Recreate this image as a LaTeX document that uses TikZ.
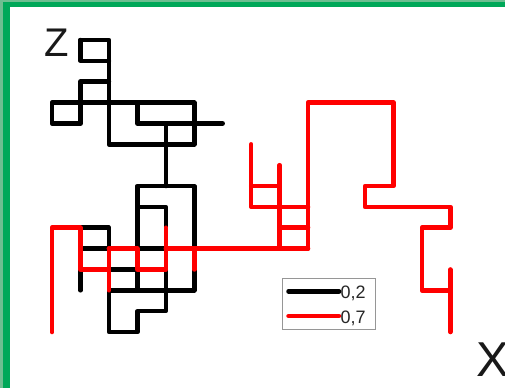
\documentclass[tikz,border=0pt]{standalone}
\usepackage{fontspec}
\setmainfont{Liberation Sans}
\definecolor{frgreen}{RGB}{0,168,89}
\definecolor{frlight}{RGB}{110,190,145}
\definecolor{walkred}{RGB}{255,0,0}
\definecolor{legendgray}{RGB}{150,150,150}
\tikzset{
  blk/.style={line width=4.5pt, black, line cap=round, line join=round},
  rd/.style={line width=4.5pt, walkred, line cap=round, line join=round},
  axislabel/.style={inner sep=0pt, anchor=base west, text=black!90},
  legtext/.style={inner sep=0pt, anchor=base west, font=\fontsize{18}{18}\selectfont, text=black!85}
}
\begin{document}
\begin{tikzpicture}[x=1pt,y=-1pt]
\useasboundingbox (0,0) rectangle (505,388);
\fill[white] (0,0) rectangle (505,388);
% frame
\fill[frlight] (0,0) rectangle (3,388);
\fill[frgreen] (3,0) rectangle (10,388);
\fill[frlight] (0,0) rectangle (505,1.5);
\fill[frgreen] (3,1.5) rectangle (505,7);
% axis letters
\node[axislabel, font=\fontsize{40}{40}\selectfont] (zlab) at (44,56.7) {Z};
\node[axislabel, font=\fontsize{49}{49}\selectfont] (xlab) at (476,376.7) {X};
% walks
\begin{scope}[shift={(52pt,-40pt)}, x=28.45pt, y=-20.86pt]
  % black walk (0,2)
  \draw[blk] (1,0)--(2,0)--(2,5)--(5,5)--(5,3)--(0,3)--(0,4)--(1,4)--(1,2)--(2,2);
  \draw[blk] (1,0)--(1,1)--(2,1);
  \draw[blk] (3,3)--(3,4)--(6,4);
  \draw[blk] (4,4)--(4,7);
  \draw[blk] (3,12)--(3,7)--(5,7)--(5,12)--(2,12)--(2,14)--(3,14)--(3,13)--(4,13)--(4,8)--(3,8);
  \draw[blk] (2,12)--(2,9)--(1,9)--(1,12);
  \draw[blk] (1,10)--(4,10);
  \draw[blk] (2,11)--(3,11);
  % red walk (0,7)
  \draw[rd] (0,14)--(0,9)--(1,9)--(1,11)--(2,11)--(2,12);
  \draw[rd] (2,10)--(2,11);
  \draw[rd] (2,10)--(3,10)--(3,11)--(4,11)--(4,9);
  \draw[rd] (4,10)--(9,10);
  \draw[rd] (5,10)--(5,11);
  \draw[rd] (7,5)--(7,8)--(9,8);
  \draw[rd] (7,7)--(8,7);
  \draw[rd] (8,6)--(8,10);
  \draw[rd] (8,9)--(9,9);
  \draw[rd] (9,10)--(9,3)--(12,3)--(12,7)--(11,7)--(11,8)--(14,8)--(14,9)--(13,9)--(13,12)--(14,12);
  \draw[rd] (14,11)--(14,14);
\end{scope}
% legend
\node[draw=legendgray, line width=1pt, minimum width=93pt, minimum height=51pt, inner sep=0pt, anchor=north west, fill=white] (legend) at (281.7,277.5) {};
\coordinate (lb1) at (288.5,291.5);
\coordinate (lb2) at (339,291.5);
\coordinate (lr1) at (288.5,316);
\coordinate (lr2) at (339,316);
\draw[blk] (lb1) -- (lb2);
\draw[rd] (lr1) -- (lr2);
\node[legtext] (l02) at (340.3,298.3) {0,2};
\node[legtext] (l07) at (340.3,323.3) {0,7};
\end{tikzpicture}
\end{document}
